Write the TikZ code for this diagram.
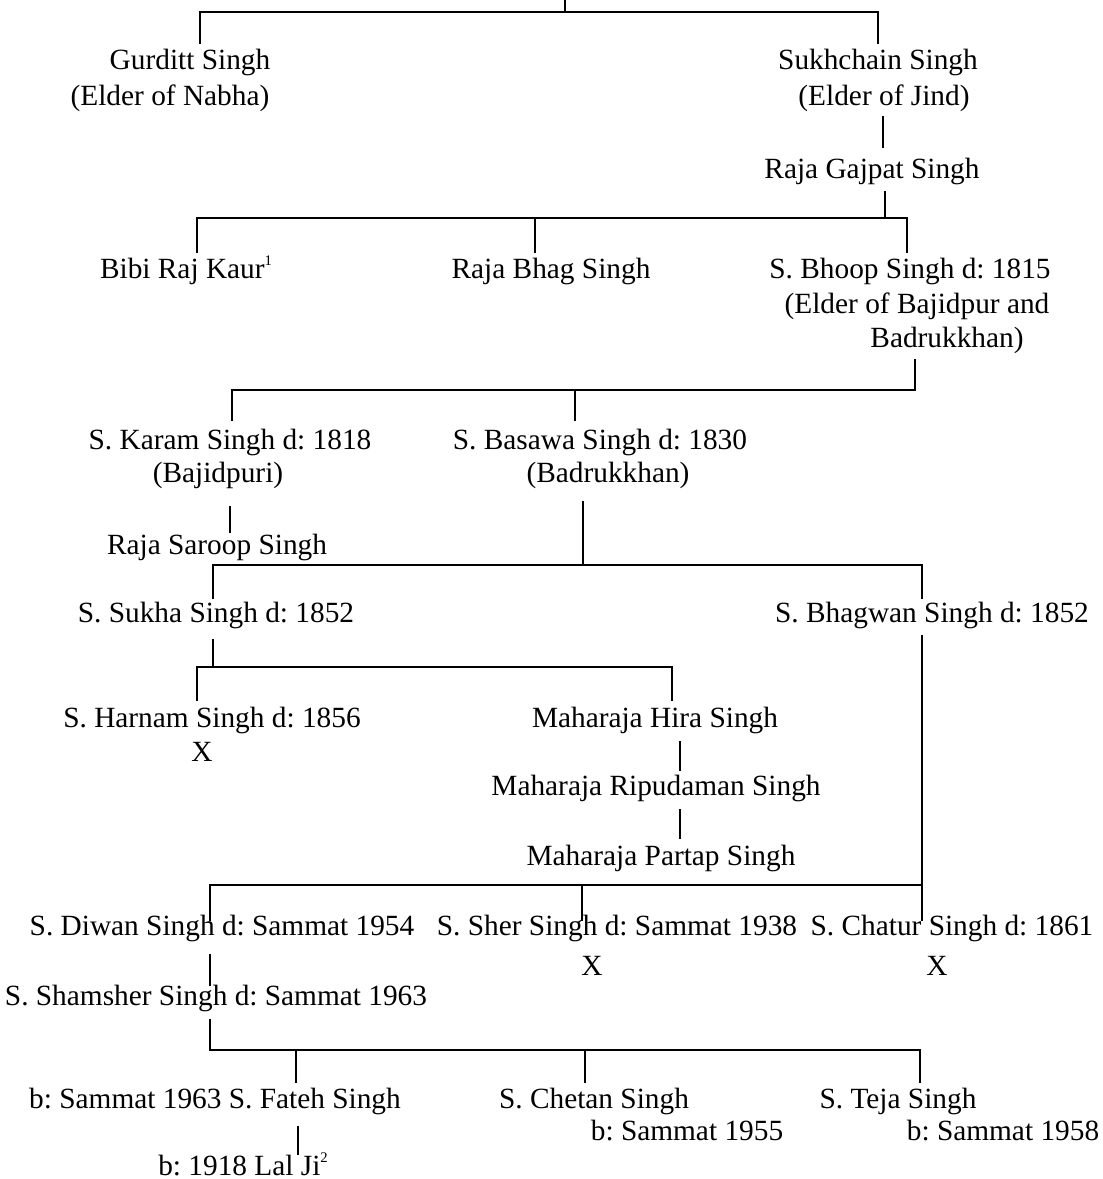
\documentclass[tikz,border=0pt]{standalone}
\usepackage{fontspec}
\setmainfont{Liberation Serif}
\newcommand{\fnmark}[1]{\raisebox{0.42em}{\fontsize{11}{11}\selectfont #1}}
\begin{document}
\frenchspacing
\begin{tikzpicture}[x=0.75pt,y=-0.75pt,
  person/.style={anchor=base,inner sep=0pt,font=\fontsize{22}{26}\selectfont},
  link/.style={line width=1.6pt,line cap=rect}]
\useasboundingbox (0,0) rectangle (1103,1179);

% ---------- names ----------
\node[person] (gurditt)  at (190,69)  {Gurditt Singh};
\node[person] (nabha)    at (170,105) {(Elder of Nabha)};
\node[person] (sukhchain) at (878,69) {Sukhchain Singh};
\node[person] (jind)     at (884,105) {(Elder of Jind)};
\node[person] (gajpat)   at (872,178) {Raja Gajpat Singh};

\node[person] (bibi)     at (186,278) {Bibi Raj Kaur\fnmark{1}};
\node[person] (bhag)     at (551,278) {Raja Bhag Singh};
\node[person] (bhoop)    at (910,278) {S. Bhoop Singh d: 1815};
\node[person] (bhoopa)   at (917,313) {(Elder of Bajidpur and};
\node[person] (bhoopb)   at (947,347) {Badrukkhan)};

\node[person] (karam)    at (230,449) {S. Karam Singh d: 1818};
\node[person] (karama)   at (218,482) {(Bajidpuri)};
\node[person] (basawa)   at (600,449) {S. Basawa Singh d: 1830};
\node[person] (basawaa)  at (608,482) {(Badrukkhan)};
\node[person] (saroop)   at (217,554) {Raja Saroop Singh};

\node[person] (sukha)    at (216,622) {S. Sukha Singh d: 1852};
\node[person] (bhagwan)  at (932,622) {S. Bhagwan Singh d: 1852};

\node[person] (harnam)   at (212,727) {S. Harnam Singh d: 1856};
\node[person] (harnamx)  at (202,761) {X};
\node[person] (hira)     at (655,727) {Maharaja Hira Singh};
\node[person] (ripu)     at (656,795) {Maharaja Ripudaman Singh};
\node[person] (partap)   at (661,865) {Maharaja Partap Singh};

\node[person] (diwan)    at (222,935) {S. Diwan Singh d: Sammat 1954};
\node[person] (sher)     at (617,935) {S. Sher Singh d: Sammat 1938};
\node[person] (sherx)    at (592,975) {X};
\node[person] (chatur)   at (952,935) {S. Chatur Singh d: 1861};
\node[person] (chaturx)  at (937,975) {X};
\node[person] (shamsher) at (216,1005) {S. Shamsher Singh d: Sammat 1963};

\node[person] (fateh)    at (215,1108) {b: Sammat 1963 S. Fateh Singh};
\node[person] (chetan)   at (594,1108) {S. Chetan Singh};
\node[person] (chetanb)  at (687,1140) {b: Sammat 1955};
\node[person] (teja)     at (898,1108) {S. Teja Singh};
\node[person] (tejab)    at (1003,1140) {b: Sammat 1958};
\node[person] (lalji)    at (243,1175) {b: 1918 Lal Ji\fnmark{2}};

% ---------- junction points ----------
\coordinate (top)   at (565,0);
\coordinate (b1l)   at (200,12);
\coordinate (b1r)   at (878,12);
\coordinate (gurditt-in)   at (200,43);
\coordinate (sukhchain-in) at (878,43);
\coordinate (jind-out)     at (883,117);
\coordinate (gajpat-in)    at (883,147);
\coordinate (gajpat-out)   at (885,192);

\coordinate (b2l)   at (197,218);
\coordinate (b2m)   at (535,218);
\coordinate (b2r)   at (907,218);
\coordinate (bibi-in)  at (197,252);
\coordinate (bhoop-in) at (907,252);
\coordinate (bhag-in)  at (535,252);
\coordinate (bhoop-out) at (915,360);

\coordinate (b3l)   at (232,390);
\coordinate (b3m)   at (575,390);
\coordinate (b3r)   at (915,390);
\coordinate (karam-in)  at (232,420);
\coordinate (basawa-in) at (575,420);
\coordinate (karam-out) at (230,507);
\coordinate (saroop-in) at (230,532);
\coordinate (basawa-out) at (583,502);

\coordinate (b4l)   at (213,565);
\coordinate (b4m)   at (583,565);
\coordinate (b4r)   at (922,565);
\coordinate (sukha-in)   at (213,598);
\coordinate (bhagwan-in) at (922,598);
\coordinate (sukha-out)  at (213,640);
\coordinate (bhagwan-out) at (922,636);

\coordinate (b5l)   at (197,667);
\coordinate (b5r)   at (672,667);
\coordinate (harnam-in) at (197,700);
\coordinate (hira-in)   at (672,700);
\coordinate (hira-out)  at (680,742);
\coordinate (ripu-in)   at (680,770);
\coordinate (ripu-out)  at (680,810);
\coordinate (partap-in) at (680,838);

\coordinate (b6l)   at (210,885);
\coordinate (b6m)   at (582,885);
\coordinate (b6r)   at (922,885);
\coordinate (diwan-in)  at (210,920);
\coordinate (sher-in)   at (582,920);
\coordinate (chatur-in) at (922,920);
\coordinate (diwan-out) at (210,955);
\coordinate (shamsher-in)  at (210,985);
\coordinate (shamsher-out) at (210,1020);

\coordinate (b7l)   at (210,1050);
\coordinate (b7a)   at (296,1050);
\coordinate (b7m)   at (585,1050);
\coordinate (b7r)   at (920,1050);
\coordinate (fateh-in)  at (296,1082);
\coordinate (chetan-in) at (585,1082);
\coordinate (teja-in)   at (920,1082);
\coordinate (fateh-out) at (298,1127);
\coordinate (lalji-in)  at (298,1154);

% ---------- connectors ----------
\draw[link] (top) -- (top |- b1l);
\draw[link] (gurditt-in) -- (b1l) -- (b1r) -- (sukhchain-in);
\draw[link] (jind-out) -- (gajpat-in);
\draw[link] (gajpat-out) -- (gajpat-out |- b2r);
\draw[link] (bibi-in) -- (b2l) -- (b2r) -- (bhoop-in);
\draw[link] (b2m) -- (bhag-in);

\draw[link] (bhoop-out) -- (b3r);
\draw[link] (karam-in) -- (b3l) -- (b3r);
\draw[link] (b3m) -- (basawa-in);
\draw[link] (karam-out) -- (saroop-in);
\draw[link] (basawa-out) -- (b4m);

\draw[link] (sukha-in) -- (b4l) -- (b4r) -- (bhagwan-in);
\draw[link] (sukha-out) -- (sukha-out |- b5l);
\draw[link] (harnam-in) -- (b5l) -- (b5r) -- (hira-in);
\draw[link] (hira-out) -- (ripu-in);
\draw[link] (ripu-out) -- (partap-in);

\draw[link] (bhagwan-out) -- (chatur-in);
\draw[link] (diwan-in) -- (b6l) -- (b6r);
\draw[link] (b6m) -- (sher-in);
\draw[link] (diwan-out) -- (shamsher-in);
\draw[link] (shamsher-out) -- (b7l) -- (b7r) -- (teja-in);
\draw[link] (b7a) -- (fateh-in);
\draw[link] (b7m) -- (chetan-in);
\draw[link] (fateh-out) -- (lalji-in);
\end{tikzpicture}
\end{document}
